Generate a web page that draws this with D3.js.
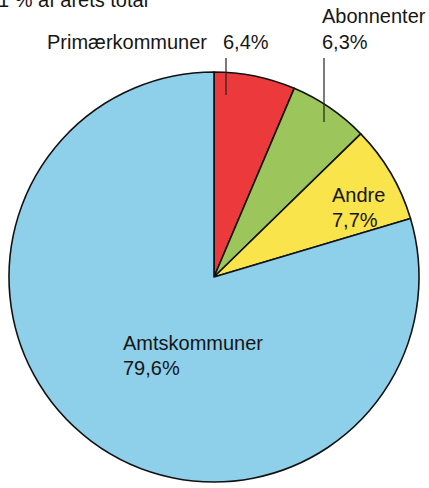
<!DOCTYPE html>
<html>
<head>
<meta charset="utf-8">
<script src="https://cdn.jsdelivr.net/npm/d3@7/dist/d3.min.js"></script>
<style>
  html, body { margin: 0; padding: 0; background: #ffffff; }
  svg { display: block; }
  text { font-family: "Liberation Sans", Arial, Helvetica, sans-serif; fill: #161616; }
</style>
</head>
<body>
<script>
// Fordeling af finansieringen (procent), i urets retning fra kl. 12
const categories = ["Primærkommuner", "Abonnenter", "Andre", "Amtskommuner"];
const values = [6.4, 6.3, 7.7, 79.6];
const colors = ["#ec3a3c", "#9cc65c", "#f9e44c", "#8ecfea"];
const valueLabels = values.map(v => v.toFixed(1).replace(".", ",") + "%");

const W = 429, H = 488;
const cx = 214, cy = 277, R = 205;

const svg = d3.select("body").append("svg")
  .attr("width", W).attr("height", H);

// Overskrift, kun nederste del er synlig i udsnittet
svg.append("text")
  .attr("x", -2).attr("y", 7)
  .style("font-size", "20px")
  .text("1 % af årets total");

const pie = d3.pie().sort(null).value(d => d)
  .startAngle(0).endAngle(2 * Math.PI);
const arcs = pie(values);
const arc = d3.arc().innerRadius(0).outerRadius(R);

const g = svg.append("g").attr("transform", `translate(${cx},${cy})`);
g.selectAll("path.slice")
  .data(arcs)
  .join("path")
  .attr("class", "slice")
  .attr("d", arc)
  .attr("fill", (d, i) => colors[i])
  .attr("stroke", "#111")
  .attr("stroke-width", 1.6)
  .attr("stroke-linejoin", "round");

const fs = "20px";

// Primærkommuner: etiket over cirklen med ledelinje ned i udsnittet
svg.append("text").attr("x", 47).attr("y", 49).style("font-size", fs)
  .text(categories[0]);
svg.append("text").attr("x", 223).attr("y", 49).style("font-size", fs)
  .text(valueLabels[0]);
svg.append("line").attr("x1", 226).attr("x2", 226).attr("y1", 58).attr("y2", 95)
  .attr("stroke", "#222").attr("stroke-width", 1.2);

// Abonnenter
svg.append("text").attr("x", 322).attr("y", 23).style("font-size", fs)
  .text(categories[1]);
svg.append("text").attr("x", 322).attr("y", 49).style("font-size", fs)
  .text(valueLabels[1]);
svg.append("line").attr("x1", 324).attr("x2", 324).attr("y1", 58).attr("y2", 122)
  .attr("stroke", "#222").attr("stroke-width", 1.2);

// Andre
svg.append("text").attr("x", 332).attr("y", 202).style("font-size", fs)
  .text(categories[2]);
svg.append("text").attr("x", 332).attr("y", 227).style("font-size", fs)
  .text(valueLabels[2]);

// Amtskommuner
svg.append("text").attr("x", 123).attr("y", 350).style("font-size", fs)
  .text(categories[3]);
svg.append("text").attr("x", 123).attr("y", 375).style("font-size", fs)
  .text(valueLabels[3]);
</script>
</body>
</html>
